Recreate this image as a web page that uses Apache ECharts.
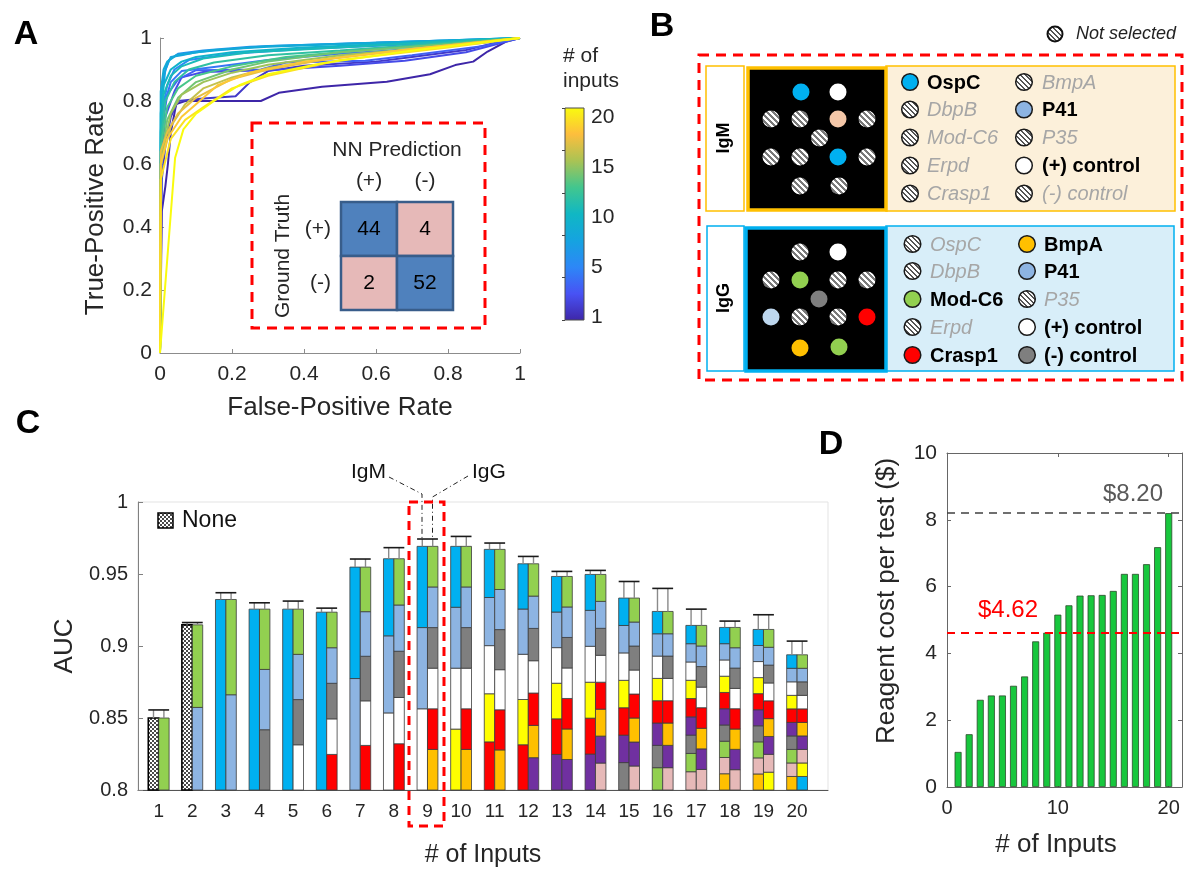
<!DOCTYPE html>
<html><head><meta charset="utf-8">
<script src="https://cdn.jsdelivr.net/npm/echarts@6/dist/echarts.min.js"></script>
<style>html,body{margin:0;padding:0;background:#fff}#c{width:1184px;height:871px}</style>
</head><body><div id="c"></div>
<script>
// ---------- Panel A: ROC curves [FPR, TPR], one per number of inputs ----------
const roc01 = [[0,0],[0.005,0.45],[0.015,0.53],[0.022,0.6],[0.03,0.7],[0.045,0.79],[0.07,0.8],[0.28,0.8],[0.33,0.826],[0.45,0.845],[0.63,0.861],[0.75,0.885],[0.82,0.914],[0.87,0.925],[0.91,0.957],[0.96,0.988],[1,1]];
const roc02 = [[0,0],[0.005,0.55],[0.015,0.66],[0.03,0.75],[0.05,0.8],[0.12,0.808],[0.21,0.815],[0.25,0.86],[0.3,0.895],[0.4,0.912],[0.6,0.925],[0.7,0.94],[0.85,0.962],[0.95,0.99],[1,1]];
const roc03 = [[0,0],[0.004,0.62],[0.015,0.75],[0.04,0.83],[0.06,0.875],[0.12,0.892],[0.3,0.898],[0.5,0.912],[0.68,0.928],[0.85,0.955],[0.95,0.985],[1,1]];
const roc04 = [[0,0],[0.004,0.7],[0.02,0.82],[0.05,0.868],[0.1,0.898],[0.28,0.9],[0.35,0.922],[0.57,0.928],[0.7,0.945],[0.9,0.975],[1,1]];
const roc05 = [[0,0],[0.004,0.72],[0.015,0.8],[0.03,0.86],[0.06,0.895],[0.15,0.908],[0.3,0.93],[0.5,0.95],[0.7,0.965],[0.9,0.985],[1,1]];
const roc06 = [[0,0],[0.003,0.75],[0.02,0.85],[0.04,0.9],[0.08,0.93],[0.2,0.95],[0.4,0.965],[0.7,0.98],[1,1]];
const roc07 = [[0,0],[0.003,0.8],[0.01,0.88],[0.025,0.93],[0.05,0.95],[0.12,0.96],[0.25,0.972],[0.5,0.982],[0.8,0.992],[1,1]];
const roc08 = [[0,0],[0.003,0.78],[0.015,0.9],[0.03,0.94],[0.06,0.945],[0.1,0.955],[0.2,0.965],[0.3,0.975],[0.6,0.985],[1,1]];
const roc09 = [[0,0],[0.002,0.83],[0.01,0.9],[0.02,0.925],[0.045,0.945],[0.09,0.952],[0.15,0.962],[0.3,0.972],[0.6,0.985],[1,1]];
const roc10 = [[0,0],[0.002,0.76],[0.01,0.85],[0.03,0.9],[0.06,0.925],[0.1,0.94],[0.2,0.955],[0.4,0.97],[0.7,0.985],[1,1]];
const roc11 = [[0,0],[0.002,0.7],[0.01,0.82],[0.03,0.88],[0.06,0.91],[0.12,0.935],[0.25,0.955],[0.5,0.97],[0.8,0.99],[1,1]];
const roc12 = [[0,0],[0.003,0.68],[0.015,0.8],[0.04,0.86],[0.08,0.9],[0.15,0.922],[0.3,0.945],[0.5,0.96],[0.8,0.985],[1,1]];
const roc13 = [[0,0],[0.003,0.66],[0.02,0.78],[0.05,0.84],[0.1,0.88],[0.2,0.91],[0.35,0.94],[0.6,0.965],[0.85,0.985],[1,1]];
const roc14 = [[0,0],[0.003,0.62],[0.02,0.74],[0.05,0.81],[0.1,0.86],[0.2,0.9],[0.3,0.925],[0.5,0.955],[0.8,0.98],[1,1]];
const roc15 = [[0,0],[0.003,0.62],[0.03,0.76],[0.06,0.82],[0.12,0.86],[0.2,0.89],[0.3,0.915],[0.5,0.945],[0.8,0.975],[1,1]];
const roc16 = [[0,0],[0.003,0.6],[0.03,0.72],[0.07,0.79],[0.12,0.84],[0.2,0.875],[0.3,0.905],[0.5,0.94],[0.8,0.975],[1,1]];
const roc17 = [[0,0],[0.002,0.64],[0.02,0.7],[0.05,0.76],[0.1,0.81],[0.2,0.87],[0.3,0.9],[0.45,0.93],[0.7,0.965],[1,1]];
const roc18 = [[0,0],[0.002,0.6],[0.02,0.68],[0.06,0.75],[0.1,0.79],[0.16,0.85],[0.25,0.89],[0.4,0.925],[0.7,0.965],[1,1]];
const roc19 = [[0,0],[0.002,0.55],[0.03,0.68],[0.07,0.74],[0.12,0.78],[0.2,0.84],[0.3,0.88],[0.5,0.93],[0.8,0.97],[1,1]];
const roc20 = [[0,0],[0.042,0.62],[0.065,0.71],[0.1,0.76],[0.15,0.8],[0.22,0.85],[0.3,0.885],[0.45,0.92],[0.7,0.96],[1,1]];
const rocCurves = [roc01,roc02,roc03,roc04,roc05,roc06,roc07,roc08,roc09,roc10,roc11,roc12,roc13,roc14,roc15,roc16,roc17,roc18,roc19,roc20];
const rocTicks = [0, 0.2, 0.4, 0.6, 0.8, 1];
const colorbarLabels = ['1', '5', '10', '15', '20'];

// Confusion matrix (rows: ground truth, cols: NN prediction)
const predLabels = ['(+)', '(-)'];
const truthLabels = ['(+)', '(-)'];
const cmRowPos = [44, 4];
const cmRowNeg = [2, 52];

// ---------- Panel C: AUC per number of inputs ----------
const cInputs = [1,2,3,4,5,6,7,8,9,10,11,12,13,14,15,16,17,18,19,20];
const cAUC = [0.850,0.9147,0.9323,0.9256,0.9256,0.9235,0.9548,0.9606,0.9692,0.9692,0.9671,0.9571,0.9483,0.9497,0.9333,0.924,0.9143,0.9129,0.9115,0.8939];
const cErrTop = [0.8556,0.9163,0.937,0.930,0.9312,0.9263,0.9604,0.9683,0.9743,0.9761,0.9715,0.9622,0.9518,0.9525,0.9448,0.940,0.9256,0.9173,0.9217,0.9034];
// selected IgM inputs per bar (bottom to top)
const cIgM = [
  ['none'],['none'],['OspC'],['OspC'],['OspC'],['OspC'],
  ['P41','OspC'],
  ['pos','P41','OspC'],['pos','P41','OspC'],
  ['yel','pos','P41','OspC'],
  ['Crasp1','yel','pos','P41','OspC'],['Crasp1','yel','pos','P41','OspC'],
  ['pur','Crasp1','yel','pos','P41','OspC'],['pur','Crasp1','yel','pos','P41','OspC'],
  ['neg','pur','Crasp1','yel','pos','P41','OspC'],
  ['ModC6','neg','pur','Crasp1','yel','pos','P41','OspC'],
  ['pink','ModC6','neg','pur','Crasp1','yel','pos','P41','OspC'],
  ['BmpA','pink','ModC6','neg','pur','Crasp1','yel','pos','P41','OspC'],
  ['BmpA','pink','ModC6','neg','pur','Crasp1','yel','pos','P41','OspC'],
  ['BmpA','pink','ModC6','neg','pur','Crasp1','yel','pos','P41','OspC']
];
// selected IgG inputs per bar (bottom to top)
const cIgG = [
  ['ModC6'],
  ['P41','ModC6'],['P41','ModC6'],
  ['neg','P41','ModC6'],
  ['pos','neg','P41','ModC6'],
  ['Crasp1','pos','neg','P41','ModC6'],['Crasp1','pos','neg','P41','ModC6'],['Crasp1','pos','neg','P41','ModC6'],
  ['BmpA','Crasp1','pos','neg','P41','ModC6'],['BmpA','Crasp1','pos','neg','P41','ModC6'],['BmpA','Crasp1','pos','neg','P41','ModC6'],
  ['pur','BmpA','Crasp1','pos','neg','P41','ModC6'],['pur','BmpA','Crasp1','pos','neg','P41','ModC6'],
  ['pink','pur','BmpA','Crasp1','pos','neg','P41','ModC6'],['pink','pur','BmpA','Crasp1','pos','neg','P41','ModC6'],
  ['pink','pur','BmpA','Crasp1','pos','neg','P41','ModC6'],['pink','pur','BmpA','Crasp1','pos','neg','P41','ModC6'],
  ['pink','pur','BmpA','Crasp1','pos','neg','P41','ModC6'],
  ['yel','pink','pur','BmpA','Crasp1','pos','neg','P41','ModC6'],
  ['OspC','yel','pink','pur','BmpA','Crasp1','pos','neg','P41','ModC6']
];

// ---------- Panel D: reagent cost per test ----------
const dInputs = [1,2,3,4,5,6,7,8,9,10,11,12,13,14,15,16,17,18,19,20];
const dCost = [1.05,1.58,2.61,2.74,2.74,3.03,3.31,4.36,4.62,5.16,5.44,5.73,5.74,5.75,5.87,6.38,6.38,6.67,7.18,8.20];
const dMaxCost = 8.20;
const dChosenCost = 4.62;

// ---------- styling helpers ----------
const FONT = '"Liberation Sans", Arial, Helvetica, sans-serif';
const TXT = '#262626';
const parulaStops = ['#3e26a8','#4852f4','#2d87f7','#15a3e0','#10b7c4','#42c68e','#aac354','#fdbe3d','#f9fb0e'];
function hex2rgb(h){return [1,3,5].map(i=>parseInt(h.substr(i,2),16));}
function parula(t){
  const s = t*(parulaStops.length-1);
  const i = Math.min(Math.floor(s), parulaStops.length-2);
  const f = s - i, a = hex2rgb(parulaStops[i]), b = hex2rgb(parulaStops[i+1]);
  return 'rgb(' + a.map((v,k)=>Math.round(v+(b[k]-v)*f)).join(',') + ')';
}
function stripes(bg, fg, size, w){
  const c = document.createElement('canvas'); c.width = size; c.height = size;
  const g = c.getContext('2d');
  for (let x=0;x<size;x++) for (let y=0;y<size;y++){
    g.fillStyle = ((((x-y)%size)+size)%size) < w ? fg : bg; g.fillRect(x,y,1,1);
  }
  return {image:c, repeat:'repeat'};
}
function checker(a, b, s){
  const c = document.createElement('canvas'); c.width = 2*s; c.height = 2*s;
  const g = c.getContext('2d');
  g.fillStyle = a; g.fillRect(0,0,2*s,2*s);
  g.fillStyle = b; g.fillRect(0,0,s,s); g.fillRect(s,s,s,s);
  return {image:c, repeat:'repeat'};
}
const hatchDark = stripes('#ffffff', '#7a7a7a', 6, 3);
const hatchLegend = stripes('#ffffff', '#555555', 5, 2);
const checkerFill = checker('#ffffff', '#4a4a4a', 2);

const segColors = {OspC:'#00b0f0', P41:'#8db4e2', pos:'#ffffff', neg:'#7f7f7f', ModC6:'#92d050',
  Crasp1:'#ff0000', BmpA:'#ffc000', yel:'#ffff00', pur:'#7030a0', pink:'#e6b9b8'};
const colorKeys = ['none','OspC','P41','pos','neg','ModC6','Crasp1','BmpA','yel','pur','pink'];

// segments: equal partitions of each bar's height (one per selected input)
const segData = [];
cInputs.forEach((n, i) => {
  [cIgM[i], cIgG[i]].forEach((list, side) => {
    const step = (cAUC[i] - 0.8) / list.length;
    list.forEach((key, k) => segData.push([n, side, 0.8 + step*k, 0.8 + step*(k+1), colorKeys.indexOf(key)]));
  });
});
const errData = cInputs.map((n, i) => [n, cAUC[i], cErrTop[i]]);
const cmData = [];
[cmRowPos, cmRowNeg].forEach((row, r) => row.forEach((v, c) => cmData.push([c, r, v])));

// ---------- series ----------
const series = [];
rocCurves.forEach((d, i) => series.push({
  type:'line', name:String(i+1), xAxisIndex:0, yAxisIndex:0, data:d, symbol:'none', clip:false,
  lineStyle:{width:2, color:parula(i/19)}, itemStyle:{color:parula(i/19)}, z:2+i/100
}));
series.push({
  type:'custom', xAxisIndex:1, yAxisIndex:1, data:[[0,0,1]],
  renderItem:(p, api) => {
    const a = api.coord([0,0]), b = api.coord([1,1]);
    return {type:'rect', shape:{x:a[0], y:b[1], width:b[0]-a[0], height:a[1]-b[1]},
      style:{fill:new echarts.graphic.LinearGradient(0,1,0,0, parulaStops.map((c,k)=>({offset:k/(parulaStops.length-1), color:c}))),
        stroke:'#4d4d4d', lineWidth:1}};
  }
});
series.push({
  type:'custom', xAxisIndex:3, yAxisIndex:3, data:cmData,
  renderItem:(p, api) => {
    const pt = api.coord([api.value(0), api.value(1)]), s = api.size([1,1]);
    const diag = api.value(0) === api.value(1);
    return {type:'group', children:[
      {type:'rect', shape:{x:pt[0]-s[0]/2, y:pt[1]-s[1]/2, width:s[0], height:s[1]},
        style:{fill: diag ? '#4f81bd' : '#e6b9b8', stroke:'#385d8a', lineWidth:2.5}},
      {type:'text', x:pt[0], y:pt[1], style:{text:String(api.value(2)), font:'21px '+FONT, fill:'#000', align:'center', verticalAlign:'middle'}}
    ]};
  }
});
series.push({
  type:'custom', xAxisIndex:4, yAxisIndex:4, data:segData, encode:{x:0, y:3},
  renderItem:(p, api) => {
    const n = api.value(0), side = api.value(1), key = colorKeys[api.value(4)];
    const w = api.size([1,0])[0] * 0.31;
    const a = api.coord([n, api.value(2)]), b = api.coord([n, api.value(3)]);
    const none = key === 'none';
    return {type:'rect', shape:{x: side === 0 ? a[0]-w : a[0], y:b[1], width:w, height:a[1]-b[1]},
      style:{fill: none ? checkerFill : segColors[key], stroke: none ? '#000' : '#3c3c3c', lineWidth: none ? 1.6 : 0.8}};
  }
});
series.push({
  type:'custom', xAxisIndex:4, yAxisIndex:4, data:errData, encode:{x:0, y:2},
  renderItem:(p, api) => {
    const n = api.value(0), w = api.size([1,0])[0] * 0.31;
    const a = api.coord([n, api.value(1)]), b = api.coord([n, api.value(2)]);
    const ls = {stroke:'#8a8a8a', lineWidth:1.4};
    return {type:'group', children:[
      {type:'line', shape:{x1:a[0]-w/2, y1:a[1], x2:a[0]-w/2, y2:b[1]}, style:ls},
      {type:'line', shape:{x1:a[0]+w/2, y1:a[1], x2:a[0]+w/2, y2:b[1]}, style:ls},
      {type:'line', shape:{x1:a[0]-w, y1:b[1], x2:a[0]+w, y2:b[1]}, style:{stroke:'#1a1a1a', lineWidth:1.6}}
    ]};
  }
});
series.push({
  type:'bar', xAxisIndex:5, yAxisIndex:5, data:dInputs.map((n,i)=>[n, dCost[i]]), barWidth:7,
  itemStyle:{color:'#17c73d', borderColor:'#2c4a2c', borderWidth:0.8},
  markLine:{silent:true, symbol:'none', label:{show:false}, animation:false, data:[
    {yAxis:dMaxCost, lineStyle:{color:'#404040', type:[8,6], width:1.5}},
    {yAxis:dChosenCost, lineStyle:{color:'#ff0000', type:[8,6], width:2}}
  ]}
});

// ---------- axes ----------
const axGray = '#8c8c8c';
const lab = (size, margin) => ({fontSize:size, color:TXT, fontFamily:FONT, margin:margin});
const xAxis = [
  {gridIndex:0, type:'value', min:0, max:1, interval:0.2, axisLine:{onZero:false, lineStyle:{color:axGray}},
   axisTick:{inside:true, length:4, lineStyle:{color:axGray}}, axisLabel:lab(21,11), splitLine:{show:false},
   name:'False-Positive Rate', nameLocation:'middle', nameGap:42, nameTextStyle:{fontSize:26, color:TXT, fontFamily:FONT}},
  {gridIndex:1, type:'value', min:0, max:1, show:false},
  {gridIndex:2, type:'value', min:0, max:1, show:false},
  {gridIndex:3, type:'category', data:predLabels, position:'top', axisLine:{show:false}, axisTick:{show:false},
   axisLabel:lab(21,10), name:'NN Prediction', nameLocation:'middle', nameGap:41, nameTextStyle:{fontSize:21, color:TXT, fontFamily:FONT}},
  {gridIndex:4, type:'value', min:0.384, max:20.92, axisLine:{onZero:false, lineStyle:{color:'#555'}}, axisTick:{show:false},
   axisLabel:Object.assign(lab(19,12), {customValues:cInputs}), splitLine:{show:false},
   name:'# of Inputs', nameLocation:'middle', nameGap:53, nameTextStyle:{fontSize:25, color:TXT, fontFamily:FONT}},
  {gridIndex:5, type:'value', min:0, max:21.2, axisLine:{onZero:false, lineStyle:{color:'#666'}},
   axisTick:{inside:true, length:4, customValues:[0,10,20], lineStyle:{color:'#666'}},
   axisLabel:Object.assign(lab(20,11), {customValues:[0,10,20]}), splitLine:{show:false}},
  {gridIndex:5, type:'value', min:0, max:21.2, position:'top', axisLine:{onZero:false, lineStyle:{color:'#666'}},
   axisTick:{inside:true, length:4, customValues:[0,10,20], lineStyle:{color:'#666'}}, axisLabel:{show:false}, splitLine:{show:false}}
];
const yAxis = [
  {gridIndex:0, type:'value', min:0, max:1, interval:0.2, axisLine:{show:true, onZero:false, lineStyle:{color:axGray}},
   axisTick:{show:true, inside:true, length:4, lineStyle:{color:axGray}}, axisLabel:lab(21,8), splitLine:{show:false}},
  {gridIndex:1, type:'value', min:0, max:1, interval:0.2, position:'right', axisLine:{show:false}, z:10,
   axisTick:{show:true, inside:true, length:3, lineStyle:{color:'#444'}}, axisLabel:{show:false}, splitLine:{show:false}},
  {gridIndex:2, type:'category', data:colorbarLabels, boundaryGap:false, position:'right', axisLine:{show:false},
   axisTick:{show:false}, axisLabel:lab(21,7), splitLine:{show:false}},
  {gridIndex:3, type:'category', data:truthLabels, inverse:true, axisLine:{show:false}, axisTick:{show:false},
   axisLabel:lab(21,10), name:'Ground Truth', nameLocation:'middle', nameGap:47, nameTextStyle:{fontSize:21, color:TXT, fontFamily:FONT}},
  {gridIndex:4, type:'value', min:0.8, max:1, interval:0.05, axisLine:{show:true, onZero:false, lineStyle:{color:'#808080'}},
   axisTick:{show:true, inside:true, length:5, lineStyle:{color:'#808080'}}, axisLabel:lab(20,10), splitLine:{show:false},
   name:'AUC', nameLocation:'middle', nameGap:56, nameTextStyle:{fontSize:26, color:TXT, fontFamily:FONT}},
  {gridIndex:5, type:'value', min:0, max:10, interval:2, axisLine:{show:true, onZero:false, lineStyle:{color:'#666'}},
   axisTick:{show:true, inside:true, length:4, lineStyle:{color:'#666'}}, axisLabel:lab(21,10), splitLine:{show:false}},
  {gridIndex:5, type:'value', min:0, max:10, interval:2, position:'right', axisLine:{show:true, onZero:false, lineStyle:{color:'#666'}},
   axisTick:{show:true, inside:true, length:4, lineStyle:{color:'#666'}}, axisLabel:{show:false}, splitLine:{show:false}}
];

// ---------- graphic (panel letters, panel B diagram, annotations) ----------
const G = [];
const T = (x, y, text, font, fill, align, extra) => G.push(Object.assign({type:'text', x:x, y:y, z:50,
  style:{text:text, font:font, fill:fill || TXT, align:align || 'center', verticalAlign:'middle'}}, extra || {}));
const letter = (x, y, t) => G.push({type:'text', x:x, y:y, z:50, style:{text:t, font:'bold 34px '+FONT, fill:'#000',
  align:'center', verticalAlign:'middle', shadowBlur:3, shadowColor:'rgba(0,0,0,0.45)', shadowOffsetX:2, shadowOffsetY:2}});
letter(26, 35, 'A'); letter(662, 27, 'B'); letter(28, 424, 'C'); letter(831, 445, 'D');

// Panel A extras
T(96, 208, 'True-Positive Rate', '26px '+FONT, TXT, 'center', {rotation:Math.PI/2});
T(563, 56, '# of', '21px '+FONT, TXT, 'left');
T(563, 81, 'inputs', '21px '+FONT, TXT, 'left');
G.push({type:'rect', z:50, shape:{x:252, y:123, width:233, height:205}, style:{fill:'none', stroke:'#ff0000', lineWidth:3, lineDash:[10,7]}});

// Panel B
T(1076, 34, 'Not selected', 'italic 18px '+FONT, '#222', 'left');
G.push({type:'circle', z:50, shape:{cx:1055, cy:34, r:7.5}, style:{fill:hatchLegend, stroke:'#111', lineWidth:2}});
G.push({type:'rect', z:40, shape:{x:699, y:55, width:483, height:325}, style:{fill:'none', stroke:'#ff0000', lineWidth:3, lineDash:[10,7]}});
// IgM block
G.push({type:'rect', z:41, shape:{x:706, y:66, width:38, height:145}, style:{fill:'#fff', stroke:'#ffc000', lineWidth:1.5}});
G.push({type:'rect', z:41, shape:{x:886, y:66, width:289, height:145}, style:{fill:'#fcf0da', stroke:'#ffc000', lineWidth:1.5}});
G.push({type:'rect', z:42, shape:{x:748, y:68, width:138, height:142}, style:{fill:'#000', stroke:'#ffc000', lineWidth:3.5}});
T(724, 138, 'IgM', 'bold 18px '+FONT, '#000', 'center', {rotation:Math.PI/2});
// IgG block
G.push({type:'rect', z:41, shape:{x:707, y:226, width:37, height:145}, style:{fill:'#fff', stroke:'#00b0f0', lineWidth:1.5}});
G.push({type:'rect', z:41, shape:{x:886, y:226, width:288, height:145}, style:{fill:'#d8eef9', stroke:'#00b0f0', lineWidth:1.5}});
G.push({type:'rect', z:42, shape:{x:746, y:228, width:140, height:143}, style:{fill:'#000', stroke:'#00b0f0', lineWidth:3.5}});
T(724, 298, 'IgG', 'bold 18px '+FONT, '#000', 'center', {rotation:Math.PI/2});
// array spots
const H = 'hatch';
const igmSpots = [[801,92,'#00b0f0'],[838,92,'#ffffff'],[771,119,H],[800,119,H],[838,119,'#f4c7a8'],[867,119,H],[819.5,138,H],
  [771,157,H],[800,157,H],[838,157,'#00b0f0'],[867,157,H],[800,186,H],[839,186,H]];
const iggSpots = [[800,252,H],[838,252,'#ffffff'],[771,280,H],[800,280,'#92d050'],[838,280,H],[867,280,H],[819,299,'#7f7f7f'],
  [771,317,'#bdd7ee'],[800,317,H],[838,317,H],[867,317,'#ff0000'],[800,348,'#ffc000'],[839,347,'#92d050']];
igmSpots.concat(iggSpots).forEach(s => G.push({type:'circle', z:45, shape:{cx:s[0], cy:s[1], r:8.5},
  style:{fill: s[2] === H ? hatchDark : s[2]}}));
// legends
function legendCol(cx, tx, ys, items){
  items.forEach((it, k) => {
    const sel = it[1] !== null;
    G.push({type:'circle', z:45, shape:{cx:cx, cy:ys[k], r:8.3}, style:{fill: sel ? it[1] : hatchLegend, stroke:'#1a1a1a', lineWidth:1.5}});
    T(tx, ys[k]+1, it[0], (sel ? 'bold ' : 'italic ') + '20px ' + FONT, sel ? '#000' : '#a6a6a6', 'left');
  });
}
const igmRows = [82, 109.5, 137.5, 165.5, 193.5];
const iggRows = [244, 271, 299, 327, 355];
legendCol(910, 927, igmRows, [['OspC','#00b0f0'],['DbpB',null],['Mod-C6',null],['Erpd',null],['Crasp1',null]]);
legendCol(1024, 1042, igmRows, [['BmpA',null],['P41','#8db4e2'],['P35',null],['(+) control','#ffffff'],['(-) control',null]]);
legendCol(912.5, 930, iggRows, [['OspC',null],['DbpB',null],['Mod-C6','#92d050'],['Erpd',null],['Crasp1','#ff0000']]);
legendCol(1027, 1044, iggRows, [['BmpA','#ffc000'],['P41','#8db4e2'],['P35',null],['(+) control','#ffffff'],['(-) control','#7f7f7f']]);

// Panel C annotations
G.push({type:'rect', z:50, shape:{x:158, y:513, width:15, height:15}, style:{fill:checkerFill, stroke:'#000', lineWidth:1.5}});
T(182, 521, 'None', '23px '+FONT, '#111', 'left');
T(386, 472, 'IgM', '21px '+FONT, '#111', 'right');
T(472, 472, 'IgG', '21px '+FONT, '#111', 'left');
G.push({type:'polyline', z:50, shape:{points:[[389,477],[422,494],[422,540]]}, style:{stroke:'#222', lineWidth:1, lineDash:[5,3,1,3], fill:null}});
G.push({type:'polyline', z:50, shape:{points:[[468,476],[432.5,497],[432.5,540]]}, style:{stroke:'#222', lineWidth:1, lineDash:[5,3,1,3], fill:null}});
G.push({type:'rect', z:50, shape:{x:409, y:502, width:35, height:324}, style:{fill:'none', stroke:'#ff0000', lineWidth:3, lineDash:[9,6]}});

// Panel D annotations
T(887, 601, 'Reagent cost per test ($)', '26px '+FONT, TXT, 'center', {rotation:Math.PI/2});
T(1056, 845, '# of Inputs', '26px '+FONT, TXT, 'center');
T(1163, 494, '$' + dMaxCost.toFixed(2), '24px '+FONT, '#595959', 'right');
T(978, 610, '$' + dChosenCost.toFixed(2), '24px '+FONT, '#ff0000', 'left');

const chart = echarts.init(document.getElementById('c'), null, {renderer:'canvas'});
chart.setOption({
  animation:false,
  backgroundColor:'#ffffff',
  textStyle:{fontFamily:FONT},
  grid:[
    {left:160, top:38, width:360, height:315},
    {left:565, top:108, width:19, height:212},
    {left:565, top:117, width:19, height:200},
    {left:341, top:202, width:112, height:108},
    {left:138, top:502, width:690, height:288, show:true, borderColor:'#e3e3e3', borderWidth:1},
    {left:947, top:453, width:235, height:334}
  ],
  xAxis:xAxis, yAxis:yAxis, series:series,
  graphic:{elements:G}
});
</script></body></html>
